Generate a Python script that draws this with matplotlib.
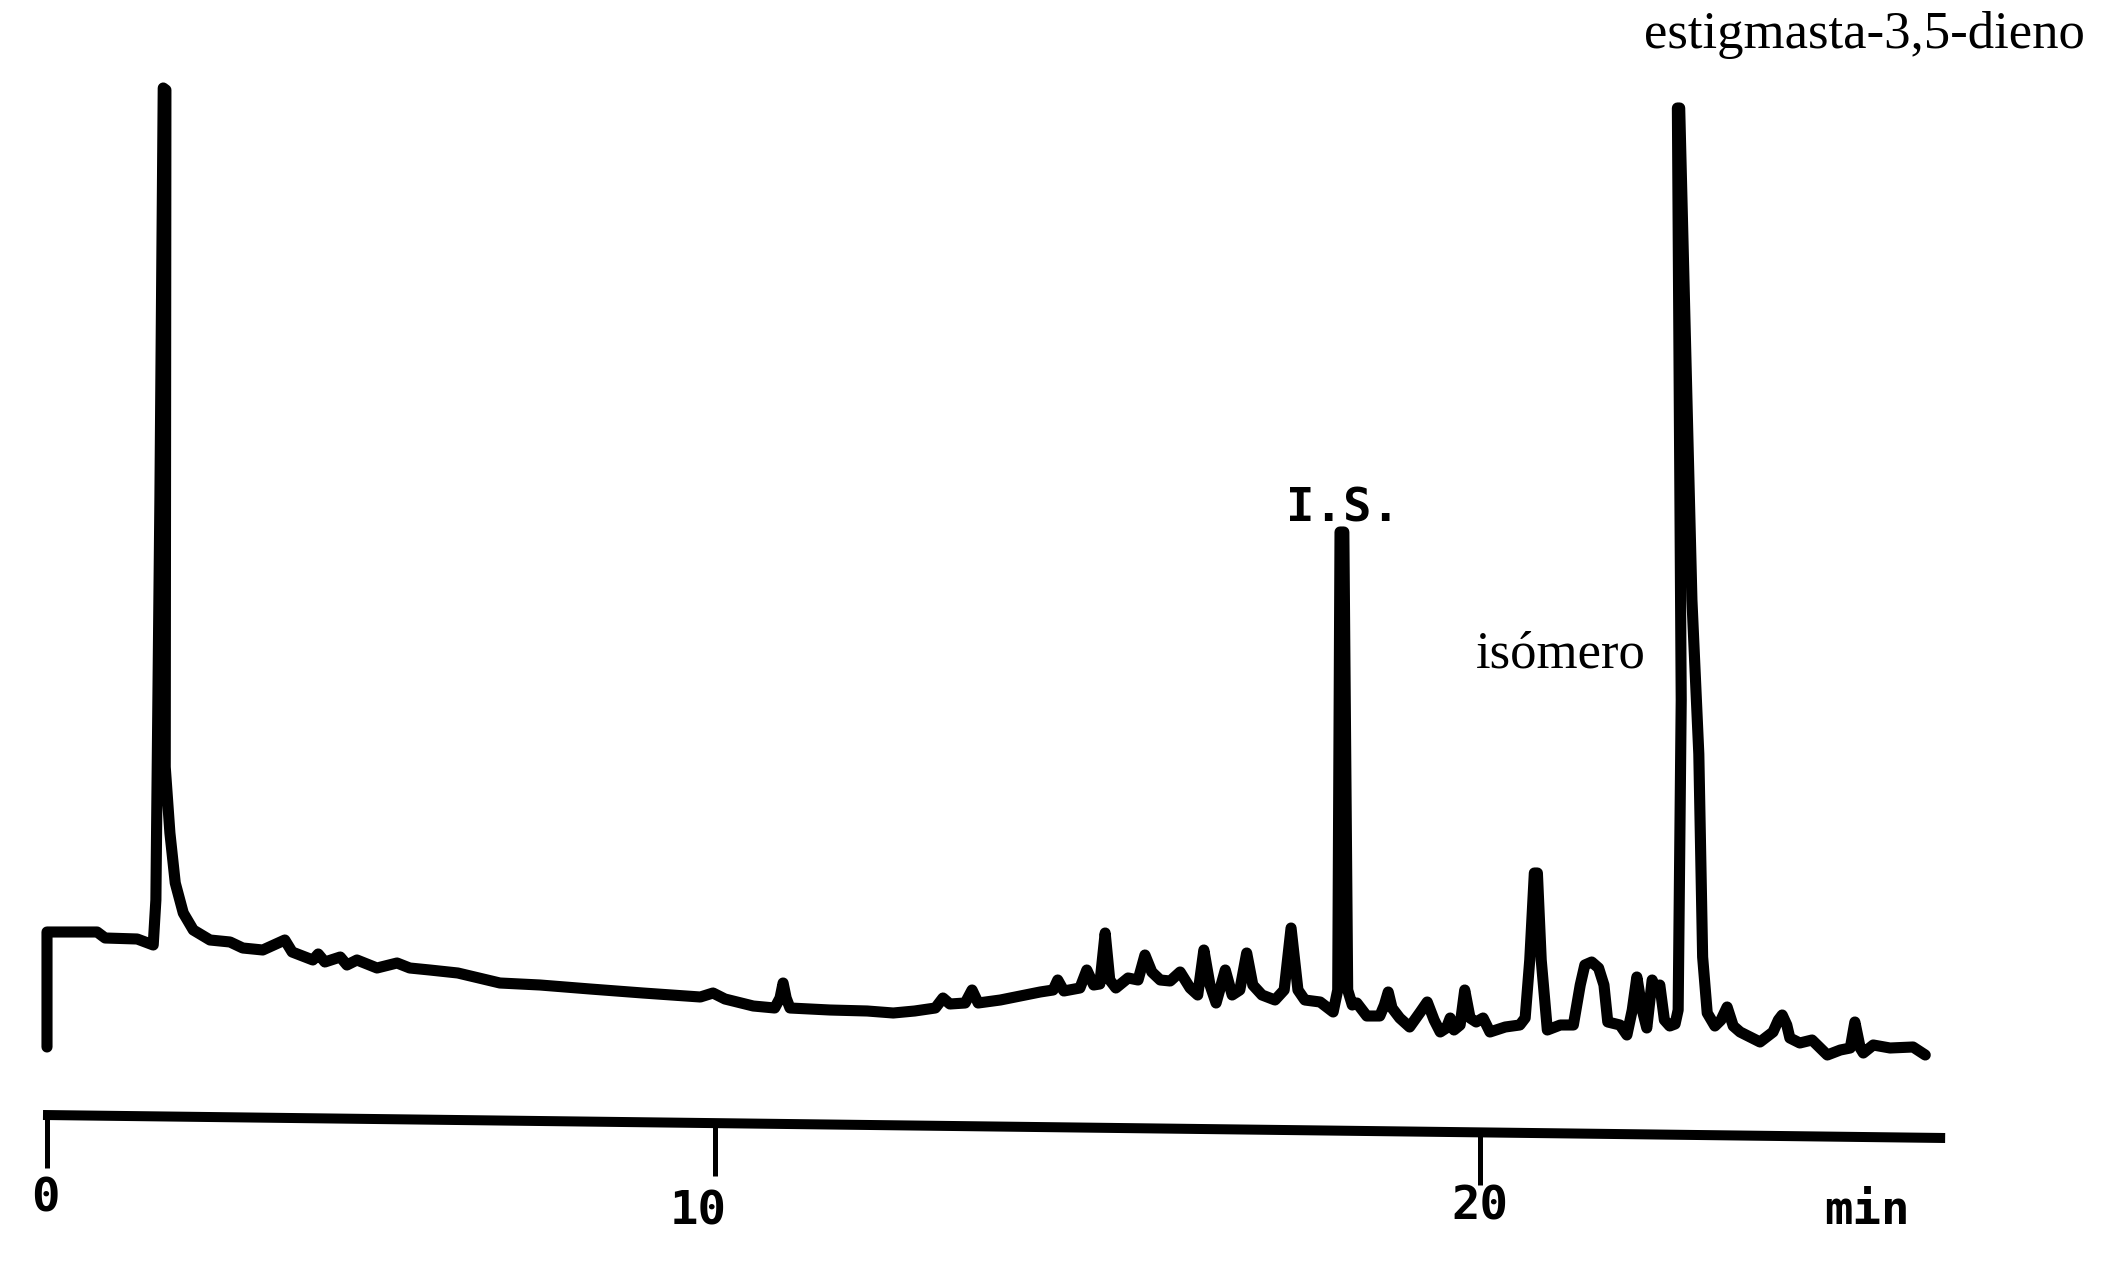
import numpy as np
import matplotlib
matplotlib.use("Agg")
import matplotlib.pyplot as plt

# ---------------- data ----------------
# retention time (min) of each recorder-trace vertex
trace_time = [
    0.00, 0.00, 0.75, 0.87, 1.35, 1.59, 1.63, 1.69, 1.74, 1.78,
    1.77, 1.84, 1.92, 2.04, 2.19, 2.44, 2.74, 2.93, 3.23, 3.56,
    3.67, 3.98, 4.06, 4.16, 4.39, 4.49, 4.64, 4.94, 5.24, 5.43,
    5.73, 6.15, 6.78, 7.38, 8.13, 8.92, 9.78, 9.97, 10.13, 10.50,
    10.78, 10.85, 10.89, 10.93, 10.98, 11.50, 11.99, 12.33, 12.61, 12.88,
    12.98, 13.07, 13.27, 13.36, 13.44, 13.73, 13.99, 14.25, 14.42, 14.48,
    14.56, 14.77, 14.86, 14.95, 15.03, 15.10, 15.16, 15.24, 15.40, 15.53,
    15.62, 15.71, 15.82, 15.95, 16.08, 16.21, 16.31, 16.39, 16.47, 16.55,
    16.67, 16.76, 16.86, 16.95, 17.03, 17.15, 17.32, 17.44, 17.53, 17.62,
    17.71, 17.91, 18.08, 18.14, 18.17, 18.22, 18.27, 18.33, 18.39, 18.52,
    18.69, 18.75, 18.80, 18.85, 18.95, 19.08, 19.22, 19.31, 19.40, 19.48,
    19.56, 19.61, 19.66, 19.74, 19.80, 19.87, 19.95, 20.04, 20.13, 20.33,
    20.52, 20.59, 20.65, 20.71, 20.75, 20.80, 20.88, 21.05, 21.22, 21.31,
    21.37, 21.46, 21.55, 21.62, 21.67, 21.83, 21.92, 21.99, 22.05, 22.12,
    22.18, 22.25, 22.30, 22.35, 22.41, 22.48, 22.55, 22.59, 22.63, 22.58,
    22.61, 22.77, 22.86, 22.91, 22.97, 23.07, 23.15, 23.23, 23.31, 23.40,
    23.66, 23.83, 23.90, 23.95, 24.01, 24.05, 24.18, 24.34, 24.54, 24.71,
    24.84, 24.90, 24.97, 25.01, 25.14, 25.36, 25.66, 25.82,
]
# detector response (% of chart full scale) at each vertex
trace_signal = [
    1.3, 12.8, 12.8, 12.2, 12.1, 11.5, 16.0, 56.0, 97.2, 97.0,
    29.3, 22.7, 17.7, 14.7, 13.0, 12.0, 11.8, 11.2, 11.0, 12.0,
    10.8, 10.0, 10.6, 9.8, 10.3, 9.5, 10.0, 9.2, 9.7, 9.2,
    9.0, 8.7, 7.7, 7.5, 7.1, 6.7, 6.3, 6.7, 6.1, 5.4,
    5.2, 6.2, 7.7, 6.2, 5.2, 5.0, 4.9, 4.7, 4.9, 5.2,
    6.2, 5.6, 5.7, 7.0, 5.7, 6.0, 6.4, 6.8, 7.0, 8.0,
    6.9, 7.2, 9.0, 7.5, 7.6, 12.7, 8.0, 7.2, 8.2, 8.0,
    10.5, 8.8, 8.0, 7.9, 8.8, 7.2, 6.5, 11.0, 7.5, 5.7,
    9.0, 6.5, 7.0, 10.7, 7.5, 6.5, 6.0, 7.0, 13.2, 7.0,
    6.0, 5.8, 4.8, 7.0, 52.8, 52.8, 7.0, 5.5, 5.7, 4.4,
    4.4, 5.5, 6.8, 5.2, 4.2, 3.3, 4.8, 5.8, 4.0, 2.8,
    3.2, 4.2, 3.0, 3.5, 7.0, 4.2, 3.8, 4.2, 2.8, 3.3,
    3.5, 4.2, 10.0, 18.7, 18.7, 10.0, 3.0, 3.5, 3.5, 7.5,
    9.5, 9.8, 9.2, 7.5, 3.8, 3.5, 2.5, 5.0, 8.3, 5.0,
    3.2, 8.0, 7.0, 7.5, 4.0, 3.4, 3.6, 5.0, 36.0, 95.2,
    95.2, 46.0, 30.6, 10.3, 4.7, 3.4, 4.0, 5.3, 3.4, 2.8,
    1.8, 2.8, 4.0, 4.5, 3.5, 2.2, 1.7, 2.0, 0.5, 1.0,
    1.2, 3.8, 1.2, 0.7, 1.5, 1.2, 1.3, 0.5,
]

# time ruler below the trace
ruler_time = [-0.06, 26.08]
ruler_level = [-5.5, -7.8]
tick_values = [0, 10, 20]
tick_labels = ["0", "10", "20"]
tick_label_time = [-0.03, 9.75, 20.0]
tick_label_level = [-13.9, -15.2, -14.7]
unit_label = "min"
unit_time = 25.06
unit_level = -15.1

# peak annotations
peak_names = ["I.S.", "isómero", "estigmasta-3,5-dieno"]
peak_label_time = [18.21, 21.05, 27.90]
peak_label_signal = [53.8, 39.3, 101.2]

# ---------------- drawing ----------------
# chart-paper calibration of the scanned recorder (slower at the start)
def fwd(t):
    t = np.asarray(t, dtype=float)
    return np.where(t <= 10, 47 + 66.8 * t, 715 + 76.5 * (t - 10))

def inv(p):
    p = np.asarray(p, dtype=float)
    return np.where(p <= 715, (p - 47) / 66.8, 10 + (p - 715) / 76.5)

fig = plt.figure(figsize=(21.11, 12.68), dpi=100)
ax = fig.add_axes([0, 0, 1, 1])
ax.set_xscale("function", functions=(fwd, inv))
ax.set_xlim(-0.7036, 28.248)
ax.set_ylim(-20.8, 106.0)
ax.axis("off")

ax.plot(trace_time, trace_signal, color="black", lw=8.0,
        solid_joinstyle="round", solid_capstyle="round")

# ruler
ax.plot(ruler_time, ruler_level, color="black", lw=7.2, solid_capstyle="butt")
r0, r1 = ruler_time
l0, l1 = ruler_level
mono = dict(fontsize=34, fontweight="bold", family="DejaVu Sans Mono")
for tv, tl, lt, ly in zip(tick_values, tick_labels, tick_label_time,
                          tick_label_level):
    top = l0 + (l1 - l0) * (fwd(tv) - fwd(r0)) / (fwd(r1) - fwd(r0))
    ax.plot([tv, tv], [top, top - 5.3], color="black", lw=3.6,
            solid_capstyle="butt")
    ax.text(lt, ly, tl, ha="center", va="center", **mono)
ax.text(unit_time, unit_level, unit_label, ha="center", va="center", **mono)

# peak labels
ax.text(peak_label_time[0], peak_label_signal[0], peak_names[0],
        ha="center", va="baseline", **mono)
ax.text(peak_label_time[1], peak_label_signal[1], peak_names[1],
        ha="center", va="baseline", fontsize=38, family="Liberation Serif")
ax.text(peak_label_time[2], peak_label_signal[2], peak_names[2],
        ha="right", va="baseline", fontsize=38, family="Liberation Serif")

fig.savefig("out.png", dpi=100, facecolor="white")
